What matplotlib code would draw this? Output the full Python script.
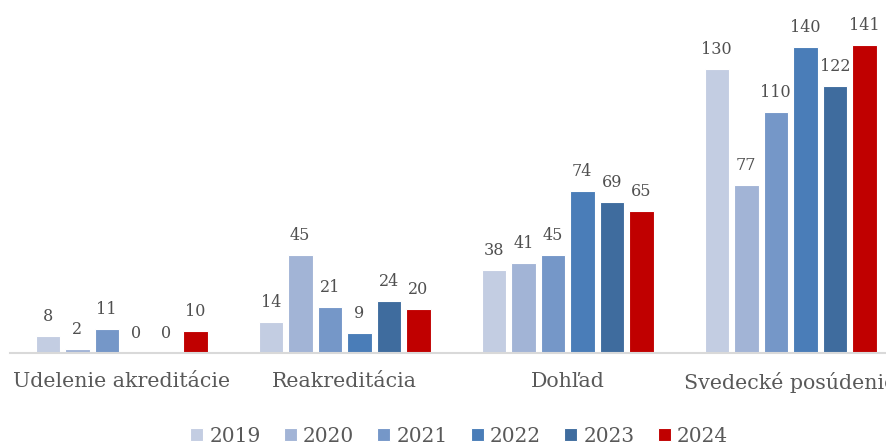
import matplotlib.pyplot as plt
import numpy as np

# Data
categories = ['Udelenie akreditácie', 'Reakreditácia', 'Dohľad', 'Svedecké posúdenie']
years = ['2019', '2020', '2021', '2022', '2023', '2024']
values = {
    '2019': [8, 14, 38, 130],
    '2020': [2, 45, 41, 77],
    '2021': [11, 21, 45, 110],
    '2022': [0, 9, 74, 140],
    '2023': [0, 24, 69, 122],
    '2024': [10, 20, 65, 141],
}
colors = ['#C3CDE2', '#A2B4D6', '#7597C8', '#4A7DB8', '#3F6C9E', '#C00000']

text_color = '#595959'
plt.rcParams['font.family'] = ['DejaVu Serif']

fig = plt.figure(figsize=(8.87, 4.47), dpi=100)
ax = fig.add_axes([10 / 887, 94 / 447, 892 / 887, 350 / 447])

x = np.arange(len(categories))
pitch = 29.5 / 223
width = 24.5 / 223

for i, year in enumerate(years):
    pos = x + (i - 2.5) * pitch
    bars = ax.bar(pos, values[year], width, color=colors[i], label=year,
                  edgecolor='white', linewidth=0.8)
    for b, v in zip(bars, values[year]):
        ax.text(b.get_x() + b.get_width() / 2, v + 5, str(v), ha='center',
                va='bottom', fontsize=11.5, color='#505050')

ax.set_xlim(-0.5, 3.5)
ax.set_ylim(0, 160)
ax.set_yticks([])
ax.set_xticks(x)
ax.set_xticklabels(categories, fontsize=14.8, color=text_color)
ax.tick_params(axis='x', length=0, pad=14)
for s in ['top', 'right', 'left']:
    ax.spines[s].set_visible(False)
ax.spines['bottom'].set_color('#D9D9D9')
ax.spines['bottom'].set_linewidth(1.5)

fig.legend(loc='center', bbox_to_anchor=(459 / 887, 1 - 436 / 447), ncol=6,
           frameon=False, fontsize=14.5, labelcolor=text_color,
           handlelength=0.65, handleheight=0.65, handletextpad=0.3,
           columnspacing=1.15)

fig.savefig('out.png', dpi=100)
